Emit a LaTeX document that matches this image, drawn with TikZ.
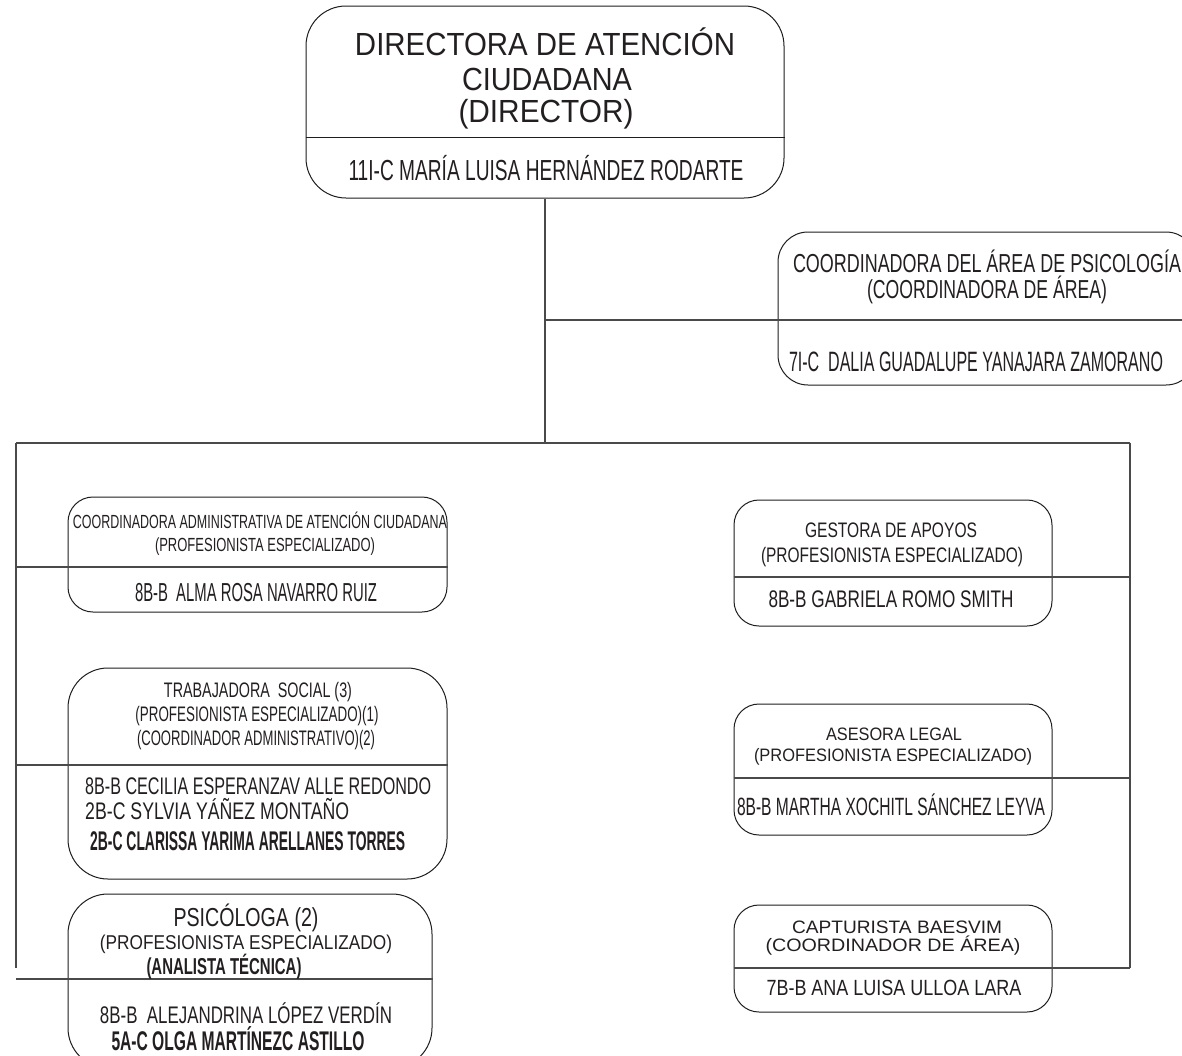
\documentclass[tikz,border=0pt]{standalone}
\usepackage{fontspec}
\setmainfont{Liberation Sans}
\usepackage{graphicx}
\definecolor{ink}{HTML}{231F20}
\definecolor{edge}{HTML}{1E1E1E}
\definecolor{wire}{HTML}{4A4A4A}
\newcommand\fitt[3]{{\fontsize{#1}{#1}\selectfont\resizebox{#2pt}{\height}{#3}}}
\newcommand\fitb[3]{{\fontsize{#1}{#1}\selectfont\bfseries\resizebox{#2pt}{\height}{#3}}}
\begin{document}
\begin{tikzpicture}[x=1pt,y=-1pt,
  box/.style={draw=edge, line width=1pt, inner sep=0pt, rectangle},
  tx/.style={inner sep=0pt, anchor=base, text=ink},
  wire/.style={draw=wire, line width=1.1pt},
  div/.style={draw=edge, line width=0.9pt}]
\useasboundingbox (0,0) rectangle (1182,1055);
\fill[white] (0,0) rectangle (1182,1055);
\clip (0,0) rectangle (1182,1055);

% boxes
\node[box, rounded corners=40pt, minimum width=478pt, minimum height=192pt] (dir) at (545,102) {};
\node[box, rounded corners=30pt, minimum width=418pt, minimum height=153pt] (coord) at (987,308.5) {};
\node[box, rounded corners=25pt, minimum width=379pt, minimum height=115pt] (bA) at (257.5,554.5) {};
\node[box, rounded corners=40pt, minimum width=379pt, minimum height=211pt] (bS) at (257.5,773.5) {};
\node[box, rounded corners=40pt, minimum width=364pt, minimum height=174pt] (bP) at (250,981) {};
\node[box, rounded corners=25pt, minimum width=318pt, minimum height=126pt] (bG) at (893,563) {};
\node[box, rounded corners=25pt, minimum width=318pt, minimum height=131pt] (bL) at (893,769.5) {};
\node[box, rounded corners=25pt, minimum width=318pt, minimum height=107pt] (bK) at (893,958.5) {};

% director divider
\coordinate (dd) at (0,137);
\draw[div] (dir.west |- dd) -- (dir.east |- dd);

% connectors
\coordinate (top) at (545,443);
\coordinate (cbr) at (545,320);
\coordinate (busL) at (16,443);
\coordinate (busR) at (1130,443);
\coordinate (endL) at (16,968);
\coordinate (endR) at (1130,968);
\draw[wire] (dir.south) -- (top);
\draw[wire] (cbr) -- (coord.east |- cbr);
\draw[wire] (busL) -- (busR);
\draw[wire] (busL) -- (endL);
\draw[wire] (busR) -- (endR);
\coordinate (jA) at (16,567);
\coordinate (jS) at (16,765);
\coordinate (jP) at (16,979);
\draw[wire] (jA) -- (bA.east |- jA);
\draw[wire] (jS) -- (bS.east |- jS);
\draw[wire] (jP) -- (bP.east |- jP);
\coordinate (jG) at (1130,577);
\coordinate (jL) at (1130,778);
\draw[wire] (bG.west |- jG) -- (jG);
\draw[wire] (bL.west |- jL) -- (jL);
\draw[wire] (bK.west |- endR) -- (endR);

% director
\node[tx] (dt1) at (545,55) {\fitt{32}{380}{DIRECTORA DE ATENCIÓN}};
\node[tx] (dt2) at (547,90) {\fitt{32}{170}{CIUDADANA}};
\node[tx] (dt3) at (546,122) {\fitt{32}{175}{(DIRECTOR)}};
\node[tx] (dn) at (546,180) {\fitt{29}{395}{11I-C MARÍA LUISA HERNÁNDEZ RODARTE}};

% coordinator
\node[tx] (ct1) at (987,272) {\fitt{26}{388}{COORDINADORA DEL ÁREA DE PSICOLOGÍA}};
\node[tx] (ct2) at (987,298) {\fitt{26}{240}{(COORDINADORA DE ÁREA)}};
\node[tx] (cn) at (976,371) {\fitt{28}{374}{7I-C\ \ DALIA GUADALUPE YANAJARA ZAMORANO}};

% box A
\node[tx] (a1) at (260,528) {\fitt{19}{374}{COORDINADORA ADMINISTRATIVA DE ATENCIÓN CIUDADANA}};
\node[tx] (a2) at (265,551) {\fitt{19}{220}{(PROFESIONISTA ESPECIALIZADO)}};
\node[tx] (an) at (256,601) {\fitt{26}{242}{8B-B\ \ ALMA ROSA NAVARRO RUIZ}};

% box S
\node[tx] (s1) at (258,697) {\fitt{21}{188}{TRABAJADORA\ \ SOCIAL (3)}};
\node[tx] (s2) at (257,721) {\fitt{21}{243}{(PROFESIONISTA ESPECIALIZADO)(1)}};
\node[tx] (s3) at (256,745) {\fitt{21}{238}{(COORDINADOR ADMINISTRATIVO)(2)}};
\node[tx, anchor=base west] (sn1) at (85,794) {\fitt{24}{346}{8B-B CECILIA ESPERANZAV ALLE REDONDO}};
\node[tx, anchor=base west] (sn2) at (85,819) {\fitt{24}{264}{2B-C SYLVIA YÁÑEZ MONTAÑO}};
\node[tx, anchor=base west] (sn3) at (90,850) {\fitb{27}{315}{2B-C CLARISSA YARIMA ARELLANES TORRES}};

% box P
\node[tx] (p1) at (246,926) {\fitt{26}{145}{PSICÓLOGA (2)}};
\node[tx] (p2) at (246,949) {\fitt{20}{292}{(PROFESIONISTA ESPECIALIZADO)}};
\node[tx] (p3) at (224,974) {\fitb{23}{155}{(ANALISTA TÉCNICA)}};
\node[tx] (pn1) at (246,1023) {\fitt{24}{292}{8B-B\ \ ALEJANDRINA LÓPEZ VERDÍN}};
\node[tx] (pn2) at (238,1050) {\fitb{27}{253}{5A-C OLGA MARTÍNEZC ASTILLO}};

% box G
\node[tx] (g1) at (891,537) {\fitt{21}{172}{GESTORA DE APOYOS}};
\node[tx] (g2) at (892,562) {\fitt{21}{262}{(PROFESIONISTA ESPECIALIZADO)}};
\node[tx] (gn) at (891,607) {\fitt{24}{245}{8B-B GABRIELA ROMO SMITH}};

% box L
\node[tx] (lg1) at (894,740) {\fitt{18}{136}{ASESORA LEGAL}};
\node[tx] (lg2) at (893,761) {\fitt{18}{278}{(PROFESIONISTA ESPECIALIZADO)}};
\node[tx] (lgn) at (891,815) {\fitt{25}{308}{8B-B MARTHA XOCHITL SÁNCHEZ LEYVA}};

% box K
\node[tx] (k1) at (897,933) {\fitt{18}{210}{CAPTURISTA BAESVIM}};
\node[tx] (k2) at (893,951) {\fitt{18}{255}{(COORDINADOR DE ÁREA)}};
\node[tx] (kn) at (894,995) {\fitt{22}{255}{7B-B ANA LUISA ULLOA LARA}};
\end{tikzpicture}
\end{document}
